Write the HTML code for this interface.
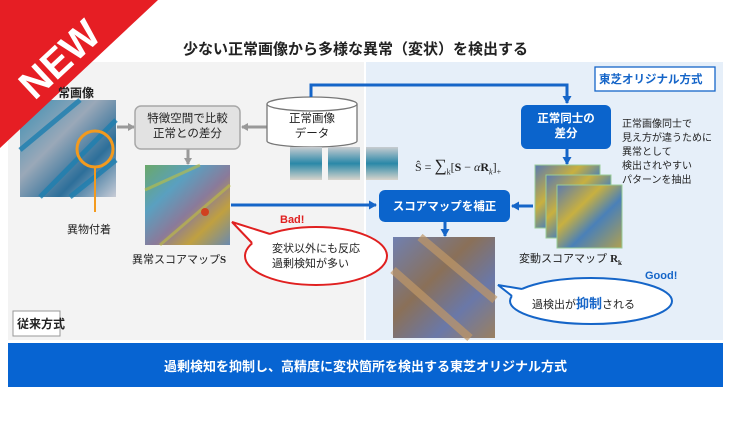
<!DOCTYPE html>
<html><head><meta charset="utf-8">
<style>
*{margin:0;padding:0;box-sizing:border-box}
body{width:730px;height:427px;background:#fff;position:relative;overflow:hidden;font-family:"Liberation Sans","Noto Sans CJK JP",sans-serif;}
.t{position:absolute;white-space:nowrap;color:#222;}
</style></head><body>
<svg width="730" height="427" style="position:absolute;left:0;top:0">
<defs>
<linearGradient id="photo" x1="0" y1="0" x2="1" y2="1">
<stop offset="0" stop-color="#3a8fb5"/><stop offset="0.4" stop-color="#9aa8b8"/><stop offset="0.7" stop-color="#2d6f9a"/><stop offset="1" stop-color="#c8ccd6"/></linearGradient>
<linearGradient id="heat" x1="0" y1="0" x2="1" y2="1">
<stop offset="0" stop-color="#6aa86a"/><stop offset="0.3" stop-color="#5aa0c0"/><stop offset="0.55" stop-color="#8a7a9a"/><stop offset="0.75" stop-color="#c0a040"/><stop offset="1" stop-color="#6a8ab0"/></linearGradient>
<linearGradient id="heat2" x1="0" y1="0" x2="1" y2="1">
<stop offset="0" stop-color="#5a7ab0"/><stop offset="0.35" stop-color="#c8b040"/><stop offset="0.6" stop-color="#4a80b8"/><stop offset="1" stop-color="#b0a050"/></linearGradient>
<linearGradient id="res" x1="0" y1="0" x2="1" y2="1">
<stop offset="0" stop-color="#7080b0"/><stop offset="0.4" stop-color="#8a7058"/><stop offset="0.7" stop-color="#6a78a8"/><stop offset="1" stop-color="#9a8060"/></linearGradient>
<linearGradient id="th" x1="0" y1="0" x2="0" y2="1">
<stop offset="0" stop-color="#c8ccd0"/><stop offset="0.5" stop-color="#2a88a8"/><stop offset="1" stop-color="#d8d4cc"/></linearGradient>
<marker id="ag" markerWidth="8" markerHeight="8" refX="6" refY="4" orient="auto" markerUnits="userSpaceOnUse"><path d="M0,0 L7,4 L0,8 Z" fill="#999"/></marker>
<marker id="ab" markerWidth="9" markerHeight="9" refX="7" refY="4.5" orient="auto" markerUnits="userSpaceOnUse"><path d="M0,0 L8,4.5 L0,9 Z" fill="#1565c8"/></marker>
</defs>
<rect x="8" y="62" width="356" height="278" fill="#f3f3f3"/>
<rect x="366" y="62" width="357" height="278" fill="#e6eff9"/>
<rect x="8" y="343" width="715" height="44" fill="#0764d2"/>
<rect x="20" y="100" width="96" height="97" fill="url(#photo)"/>
<g stroke="#1d7fb0" stroke-width="5" opacity="0.8"><line x1="20" y1="150" x2="80" y2="100"/><line x1="40" y1="197" x2="116" y2="120"/><line x1="70" y1="197" x2="116" y2="160"/></g>
<circle cx="95" cy="149" r="18" fill="none" stroke="#f39a1e" stroke-width="3"/>
<line x1="95" y1="167" x2="95" y2="212" stroke="#f39a1e" stroke-width="2"/>
<line x1="117" y1="127" x2="134" y2="127" stroke="#999" stroke-width="3" marker-end="url(#ag)"/>
<line x1="267" y1="127" x2="242" y2="127" stroke="#999" stroke-width="3" marker-end="url(#ag)"/>
<line x1="188" y1="149" x2="188" y2="164" stroke="#999" stroke-width="3" marker-end="url(#ag)"/>
<rect x="135" y="106" width="105" height="43" rx="6" fill="#e2e2e2" stroke="#a8a8a8" stroke-width="1.5"/>
<path d="M267,104 L267,141 A45,6 0 0 0 357,141 L357,104" fill="#fff" stroke="#777" stroke-width="1.3"/>
<ellipse cx="312" cy="104" rx="45" ry="7" fill="#fff" stroke="#777" stroke-width="1.3"/>
<rect x="290" y="147" width="32" height="33" fill="url(#th)"/>
<rect x="328" y="147" width="32" height="33" fill="url(#th)"/>
<rect x="366" y="147" width="32" height="33" fill="url(#th)"/>
<rect x="145" y="165" width="85" height="80" fill="url(#heat)"/>
<g stroke="#c0c040" stroke-width="3" opacity="0.6"><line x1="145" y1="190" x2="200" y2="165"/><line x1="160" y1="245" x2="230" y2="185"/></g>
<circle cx="205" cy="212" r="4" fill="#d04020"/>
<polyline points="311,97 311,85 567,85 567,103" fill="none" stroke="#1565c8" stroke-width="3" marker-end="url(#ab)"/>
<line x1="231" y1="205" x2="376" y2="205" stroke="#1565c8" stroke-width="3" marker-end="url(#ab)"/>
<line x1="533" y1="206" x2="512" y2="206" stroke="#1565c8" stroke-width="3" marker-end="url(#ab)"/>
<line x1="567" y1="149" x2="567" y2="164" stroke="#1565c8" stroke-width="3" marker-end="url(#ab)"/>
<line x1="445" y1="222" x2="445" y2="236" stroke="#1565c8" stroke-width="3" marker-end="url(#ab)"/>
<rect x="521" y="105" width="90" height="44" rx="6" fill="#0b64cc"/>
<rect x="379" y="190" width="131" height="32" rx="6" fill="#0b64cc"/>
<rect x="535" y="165" width="65" height="63" fill="url(#heat2)" stroke="#9c9" stroke-width="1"/>
<rect x="546" y="175" width="65" height="63" fill="url(#heat2)" stroke="#9c9" stroke-width="1"/>
<rect x="557" y="185" width="65" height="63" fill="url(#heat2)" stroke="#9c9" stroke-width="1"/>
<rect x="393" y="237" width="102" height="101" fill="url(#res)"/>
<g stroke="#c09868" stroke-width="8" opacity="0.7"><line x1="393" y1="270" x2="470" y2="338"/><line x1="420" y1="237" x2="495" y2="300"/></g>
<!-- red bubble -->
<ellipse cx="316" cy="256" rx="71" ry="29" fill="#fff" stroke="#e02020" stroke-width="2"/>
<polygon points="253,244 232,222 270,234 272,245" fill="#fff"/>
<polyline points="252,243 232,222 270,234" fill="none" stroke="#e02020" stroke-width="2"/>
<!-- blue bubble -->
<ellipse cx="591" cy="301" rx="81" ry="23" fill="#fff" stroke="#1565c8" stroke-width="2"/>
<polygon points="513,297 498,285 522,289 526,298" fill="#fff"/>
<polyline points="512,296 498,285 522,289" fill="none" stroke="#1565c8" stroke-width="2"/>
<rect x="595" y="67" width="120" height="24" fill="#fff" stroke="#1565c8" stroke-width="1.3"/>
<rect x="13" y="311" width="47" height="25" fill="#fff" stroke="#999" stroke-width="1"/>
<polygon points="0,0 158,0 0,148" fill="#e61e24"/>
<text x="62" y="72" fill="#fff" font-family="Liberation Sans,sans-serif" font-weight="bold" font-size="40" text-anchor="middle" transform="rotate(-43 62 62)">NEW</text>
</svg>
<div class="t" style="left:183px;top:38px;font-size:15px;font-weight:bold;">少ない正常画像から多様な異常（変状）を検出する</div>
<div class="t" style="left:58px;top:84px;font-size:12px;font-weight:bold;">常画像</div>
<div class="t" style="left:67px;top:221px;font-size:11px;">異物付着</div>
<div class="t" style="left:135px;top:112px;width:105px;text-align:center;font-size:11.5px;line-height:15px;">特徴空間で比較<br>正常との差分</div>
<div class="t" style="left:267px;top:112px;width:90px;text-align:center;font-size:11.5px;line-height:15px;">正常画像<br>データ</div>
<div class="t" style="left:132px;top:251px;font-size:11px;">異常スコアマップ<b style="font-family:'Liberation Serif',serif">S</b></div>
<div class="t" style="left:280px;top:214px;font-size:11px;font-weight:bold;color:#e02020;">Bad!</div>
<div class="t" style="left:272px;top:242px;font-size:11px;line-height:15px;">変状以外にも反応<br>過剰検知が多い</div>
<div class="t" style="left:17px;top:315px;font-size:12px;font-weight:bold;">従来方式</div>
<div class="t" style="left:599px;top:71px;font-size:11.5px;font-weight:bold;color:#1565c8;">東芝オリジナル方式</div>
<div class="t" style="left:521px;top:112px;width:90px;text-align:center;font-size:11.5px;line-height:15px;color:#fff;font-weight:bold;">正常同士の<br>差分</div>
<div class="t" style="left:622px;top:118px;font-size:10px;line-height:14px;">正常画像同士で<br>見え方が違うために<br>異常として<br>検出されやすい<br>パターンを抽出</div>
<div class="t" style="left:415px;top:156px;font-size:12px;font-family:'Liberation Serif',serif;">Ŝ = <span style="font-size:17px">∑</span><sub style="font-size:8px">k</sub>[<b>S</b> − <i>α</i><b>R</b><sub style="font-size:8px"><i>k</i></sub>]<sub style="font-size:8px">+</sub></div>
<div class="t" style="left:379px;top:198px;width:131px;text-align:center;font-size:11.5px;color:#fff;font-weight:bold;">スコアマップを補正</div>
<div class="t" style="left:519px;top:250px;font-size:11px;">変動スコアマップ <b style="font-family:'Liberation Serif',serif">R<sub style="font-size:7px">k</sub></b></div>
<div class="t" style="left:645px;top:270px;font-size:11px;font-weight:bold;color:#1565c8;">Good!</div>
<div class="t" style="left:532px;top:293px;font-size:11px;">過検出が<b style="color:#1565c8;font-size:13px">抑制</b>される</div>
<div class="t" style="left:8px;top:356px;width:715px;text-align:center;font-size:13px;color:#fff;font-weight:bold;">過剰検知を抑制し、高精度に変状箇所を検出する東芝オリジナル方式</div>
</body></html>
